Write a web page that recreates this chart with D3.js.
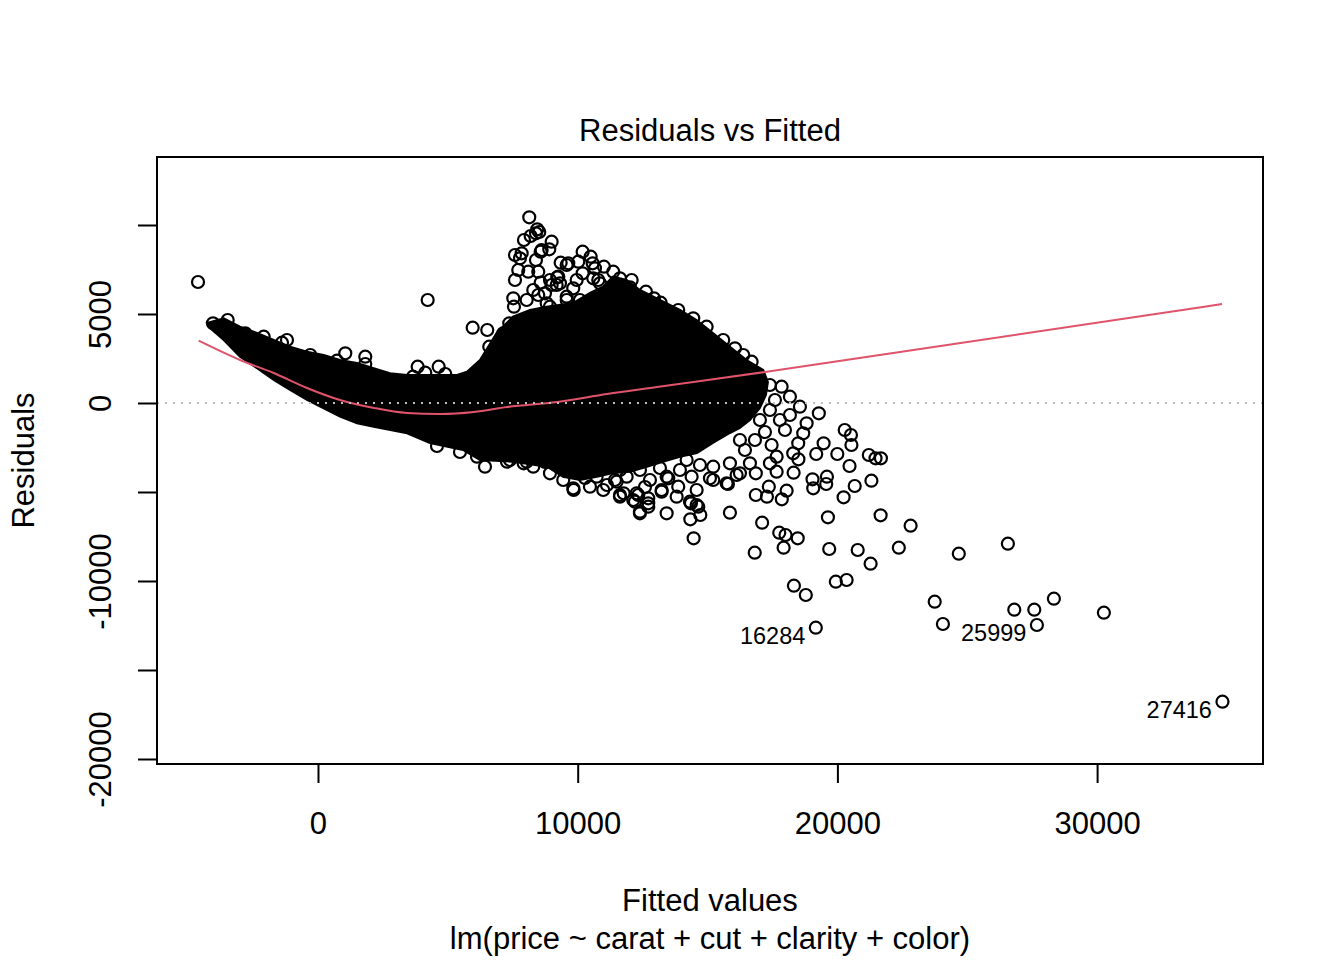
<!DOCTYPE html>
<html><head><meta charset="utf-8">
<script src="https://cdn.jsdelivr.net/npm/d3@7"></script>
<style>
body{margin:0;background:#fff}
text{font-family:"Liberation Sans",Arial,Helvetica,sans-serif;fill:#000}
</style>
</head><body>
<svg id="c" width="1344" height="960"></svg>
<script>
// ---------- tick values ----------
const xTickValues = [0, 10000, 20000, 30000];
const xTickLabels = ["0", "10000", "20000", "30000"];
const yTickValues = [10000, 5000, 0, -5000, -10000, -15000, -20000];
const yTickLabels = ["", "5000", "0", "", "-10000", "", "-20000"];

// ---------- dense core of the residual cloud (outline of the solid black mass) ----------
const denseFitted = [-4274,-3631,-3003,-2349,-1706,-1078,-424,219,847,1502,2144,2772,3427,4697,5352,5737,
  6237,6880,7508,8162,8805,9818,10472,10973,11358,11885,12397,13167,13937,14580,15208,15862,16505,17144,17325,
  17248,17017,16632,16247,15862,15208,14592,13937,13283,12667,12012,11358,10742,10087,9433,8817,7508,6237,5583,4312,
  3427,2144,1502,847,219,-424,-1078,-1706,-2349,-3003,-3631,-4146];
const denseResid = [4494,4758,4287,3933,3539,3163,2882,2697,2416,2247,1949,1668,1573,1573,1573,1758,
  2416,3933,4848,5225,5410,5618,6180,6534,7096,6910,6348,5787,5225,4663,3933,3163,2416,1854,1180,
  449,-281,-955,-1405,-1685,-2247,-2809,-3017,-3298,-3579,-3860,-3933,-4140,-4326,-4140,-3579,-3298,-3202,-2640,-2247,
  -1702,-1331,-1140,-770,-298,169,730,1292,1949,2601,3539,4197];

// ---------- individual observations (fitted value, residual) ----------
const pointFitted = [
 -4620,4223,19169,27682,34827,
 19285,20282,20521,20540,21210,21468,21676,19997,19469,19185,20467,18499,21310,20667,20239,19597,19570,19042,19069,18314,18045,17860,17360,17287,16859,16859,15785,15862,17102,17760,18003,18472,17929,16817,14464,14337,14722,14361,19635,21664,22819,19685,20782,22365,21279,24675,26565,18326,18784,19939,20355,23747,24063,26811,27581,28336,30261,
 8135,8443,8393,8520,8189,7931,8997,8905,8574,7585,7842,7777,8393,10191,10499,10576,10022,9344,9575,11011,11369,7712,8097,7585,8482,9213,9960,10191,10792,11627,12077,12012,12628,12936,13194,8574,9190,8289,8740,7519,7546,8035,9575,8932,10087,10472,5956,6518,6595,7365,13872,14449,14965,15604,16055,16374,16697,
 8482,8805,8997,9317,9252,10599,10857,10665,9637,8612,7134,9829,8932,9575,
 17402,17852,18172,18557,18815,18684,18492,18299,17660,17660,17467,14580,13425,13810,14580,13232,13872,12397,12717,12205,12270,11627,12782,13425,10984,10472,9829,9444,8932,8289,6430,7392,10730,11885,14387,15092,15735,16247,16632,15862,17402,15219,14195,
 17017,17402,17787,17210,17980,16825,16440,17595,18172,16247,
 9317,10087,10857,11627,12397,13167,13937,14707,8740,11435,12590,10280,
 11500,11627,12332,12717,12717,12397,13232,13487,14322,14642,15219,16120,8035,12139,5467,
 4582,6122,7277,7919,9844,11127,11769,
 -3477,-4043,-1194,-1386,1051,1821,1821,732,3838,4647,4131,4901,3658,-296,-2799,-2091
];
const pointResid = [
 6798,5787,-12624,-12472,-16781,
 -579,-1517,-1798,-2360,-2921,-3107,-3107,-2865,-2264,-2865,-3539,-3163,-4365,-4663,-5298,-4140,-4551,-4287,-4792,-3916,-4927,-5410,-4702,-5264,-5169,-3949,-4551,-6163,-6725,-7287,-7416,-7601,-8129,-8410,-7601,-6534,-6292,-5635,-6421,-6309,-6893,-8202,-8258,-8129,-9028,-8466,-7905,-10264,-10787,-10039,-9944,-11163,-12416,-11612,-11612,-10994,-11781,
 10433,9758,9534,9607,9382,9157,9062,8635,8500,8315,8410,8129,8034,8500,8219,7848,7938,7882,7753,7657,7376,7472,7376,6910,7376,7062,6910,7287,6910,7006,6910,6500,6253,5882,5635,6758,6629,6348,6163,5882,5410,5787,5787,5410,5787,5601,4230,4101,3163,4478,5225,4758,4287,3539,3073,2697,2320,
 6067,5601,6629,6725,7096,7006,6725,7567,7848,8595,3916,6444,6910,5972,
 1011,916,354,-208,-1140,-1702,-2264,-2826,-3860,-3017,-2360,-5730,-6197,-5264,-4888,-4983,-4702,-6107,-5635,-5545,-5073,-5264,-4326,-4140,-4888,-4702,-4792,-4326,-3949,-3579,-3579,-3202,-4140,-4140,-4140,-4230,-4511,-3949,-3388,-3388,-3388,-3579,-3202,
 -955,-393,-955,-1629,-1517,-2079,-2640,169,-674,-2079,
 -3483,-3764,-3652,-3764,-3764,-3652,-3764,-3483,-3315,-4326,-4719,-4214,
 -4421,-5169,-5169,-5354,-5826,-6197,-4888,-4230,-5545,-5826,-4326,-4045,-3298,-5449,-2753,
 -2416,-3017,-3298,-3388,-4888,-4607,-5073,
 4663,4478,3539,3388,2792,2601,2191,2376,2039,2039,1702,1629,1478,2697,3916,3725
];

// ---------- smoother ----------
const smoothFitted = [-4594,-3003,-1706,-424,847,2156,3427,4698,6007,7278,9203,11128,13053,17212,22410,34810];
const smoothResid  = [3500,2416,1685,843,169,-281,-562,-618,-506,-225,56,506,899,1742,2865,5562];

// ---------- labelled observations ----------
const labelIds = ["16284", "25999", "27416"];
const labelFitted = [19169, 27682, 34827];
const labelResid = [-12624, -12472, -16781];

// ---------- texts ----------
const mainTitle = "Residuals vs Fitted";
const xLabel = "Fitted values";
const subLabel = "lm(price ~ carat + cut + clarity + color)";
const yLabel = "Residuals";

// ================= drawing =================
const W = 1344, H = 960;
const plotL = 157, plotR = 1263, plotT = 157, plotB = 764;
const FS = 31;

const svg = d3.select("#c");
svg.append("rect").attr("width", W).attr("height", H).attr("fill", "#fff");

const x = d3.scaleLinear().domain([-6199, 36388]).range([plotL, plotR]);
const y = d3.scaleLinear().domain([-20281, 13820]).range([plotB, plotT]);

// dense mass
const dense = denseFitted.map((f, i) => [f, denseResid[i]]);
svg.append("path")
  .attr("d", d3.line().x(d => x(d[0])).y(d => y(d[1])).curve(d3.curveLinearClosed)(dense))
  .attr("fill", "#000").attr("stroke", "#000").attr("stroke-width", 2);

// points
const pts = pointFitted.map((f, i) => ({f, r: pointResid[i]}));
svg.append("g").selectAll("circle").data(pts).join("circle")
  .attr("cx", d => x(d.f)).attr("cy", d => y(d.r)).attr("r", 6)
  .attr("fill", "none").attr("stroke", "#000").attr("stroke-width", 2.2);

// smoother
const sm = smoothFitted.map((f, i) => [f, smoothResid[i]]);
svg.append("path")
  .attr("d", d3.line().x(d => x(d[0])).y(d => y(d[1])).curve(d3.curveMonotoneX)(sm))
  .attr("fill", "none").attr("stroke", "#DF536B").attr("stroke-width", 2);

// zero line
svg.append("line")
  .attr("x1", plotL).attr("x2", plotR).attr("y1", y(0)).attr("y2", y(0))
  .attr("stroke", "#BEBEBE").attr("stroke-width", 2).attr("stroke-dasharray", "2,6");

// labels for notable points
svg.append("g").selectAll("text").data(labelIds).join("text")
  .attr("x", (d, i) => x(labelFitted[i]) - 10.5)
  .attr("y", (d, i) => y(labelResid[i]) + 16.5)
  .attr("text-anchor", "end").attr("font-size", 23.5)
  .text(d => d);

// box
svg.append("rect").attr("x", plotL).attr("y", plotT)
  .attr("width", plotR - plotL).attr("height", plotB - plotT)
  .attr("fill", "none").attr("stroke", "#000").attr("stroke-width", 2);

// x axis
const gx = svg.append("g").attr("transform", `translate(0,${plotB})`)
  .call(d3.axisBottom(x).tickValues(xTickValues).tickSize(19).tickSizeOuter(0)
    .tickFormat((d, i) => xTickLabels[i]));
gx.select(".domain").remove();
gx.selectAll(".tick line").attr("stroke", "#000").attr("stroke-width", 2);
gx.selectAll(".tick text").attr("y", 70).attr("dy", null)
  .attr("font-size", FS).attr("font-family", '"Liberation Sans", Arial, sans-serif').attr("fill", "#000");

// y axis
const gy = svg.append("g").attr("transform", `translate(${plotL},0)`)
  .call(d3.axisLeft(y).tickValues(yTickValues).tickSize(19).tickSizeOuter(0)
    .tickFormat((d, i) => yTickLabels[i]));
gy.select(".domain").remove();
gy.append("line").attr("x1", 0).attr("x2", 0).attr("y1", y(10000)).attr("y2", y(-20000))
  .attr("stroke", "#000").attr("stroke-width", 2);
gy.selectAll(".tick line").attr("stroke", "#000").attr("stroke-width", 2);
gy.selectAll(".tick text").attr("transform", "rotate(-90)")
  .attr("x", 0).attr("y", -46).attr("dy", null).attr("text-anchor", "middle")
  .attr("font-size", FS).attr("font-family", '"Liberation Sans", Arial, sans-serif').attr("fill", "#000");

// titles
svg.append("text").attr("x", (plotL + plotR) / 2).attr("y", 141)
  .attr("text-anchor", "middle").attr("font-size", FS).text(mainTitle);
svg.append("text").attr("x", (plotL + plotR) / 2).attr("y", 911)
  .attr("text-anchor", "middle").attr("font-size", FS).text(xLabel);
svg.append("text").attr("x", (plotL + plotR) / 2).attr("y", 949)
  .attr("text-anchor", "middle").attr("font-size", FS).text(subLabel);
svg.append("text").attr("transform", `translate(34,${(plotT + plotB) / 2}) rotate(-90)`)
  .attr("text-anchor", "middle").attr("font-size", FS).text(yLabel);
</script>
</body></html>
